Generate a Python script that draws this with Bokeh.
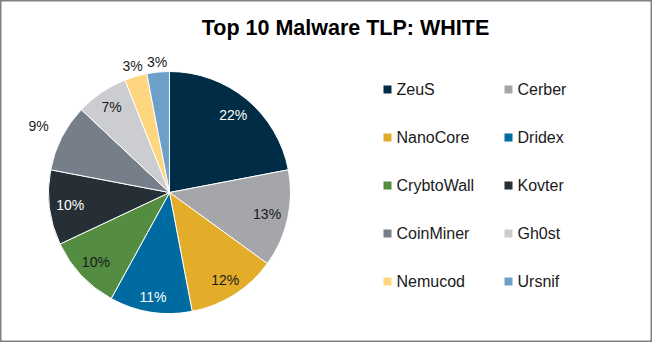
import math
import pandas as pd
from bokeh.plotting import figure
from bokeh.models import Range1d, ColumnDataSource
from bokeh.core.properties import value
from bokeh.embed import file_html
from bokeh.resources import INLINE

# ---- data ----
title = "Top 10 Malware TLP: WHITE"
names = ["ZeuS", "Cerber", "NanoCore", "Dridex", "CrybtoWall",
         "Kovter", "CoinMiner", "Gh0st", "Nemucod", "Ursnif"]
shares = [22, 13, 12, 11, 10, 10, 9, 7, 3, 3]
colors = ["#012c45", "#a5a6aa", "#e3ad2a", "#006ba0", "#548d42",
          "#262e36", "#767e89", "#cccdd0", "#ffd680", "#6ca0c8"]
label_colors = ["white", "#1a1a1a", "#1a1a1a", "white", "#1a1a1a",
                "white", "#1a1a1a", "#1a1a1a", "#1a1a1a", "#1a1a1a"]

# ---- layout (screen-like coordinates, y up = 358 - y_screen) ----
W, H = 652, 342
FONT = "Liberation Sans"
cx, cy = 177, 358 - 200
R = 121

df = pd.DataFrame({"name": names, "share": shares, "color": colors,
                   "lcolor": label_colors})
total = df["share"].sum()
frac = df["share"] / total
cum = frac.cumsum()
df["start"] = math.pi / 2 - cum * 2 * math.pi
df["end"] = math.pi / 2 - (cum - frac) * 2 * math.pi
df["mid"] = (df["start"] + df["end"]) / 2
# label radius: inside labels at 100, a few placed outside (as in the original)
lr = [100, 100, 104, 106, 101, 100, 147, 103, 132, 131]
df["lx"] = [cx + r * math.cos(a) for r, a in zip(lr, df["mid"])]
df["ly"] = [cy + r * math.sin(a) for r, a in zip(lr, df["mid"])]
df["label"] = [f"{s}%" for s in df["share"]]

# legend positions: two columns, five rows
col_x = [395, 516]
row_y = [97, 145, 193, 241, 289]
df["mx"] = [col_x[i % 2] for i in range(len(df))]
df["my"] = [358 - row_y[i // 2] for i in range(len(df))]
df["tx"] = df["mx"] + 9

src = ColumnDataSource(df)

p = figure(width=W, height=H, output_backend="svg", toolbar_location=None,
           x_range=Range1d(8, 8 + W), y_range=Range1d(358 - 8 - H, 358 - 8),
           min_border=0)
p.axis.visible = False
p.grid.visible = False
p.outline_line_color = "#808080"
p.outline_line_width = 2
p.background_fill_color = "white"
p.border_fill_color = "white"

p.wedge(x=cx, y=cy, radius=R, start_angle="start", end_angle="end",
        fill_color="color", line_color="white", line_width=1, source=src)

p.text(x="lx", y="ly", text="label", text_color="lcolor",
       text_align="center", text_baseline="middle",
       text_font=value(FONT), text_font_size="14px", source=src)

p.scatter(x="mx", y="my", marker="square", size=8, fill_color="color",
          line_color=None, source=src)
p.text(x="tx", y="my", text="name", text_color="#1a1a1a",
       text_align="left", text_baseline="middle",
       text_font=value(FONT), text_font_size="16px", source=src)

p.text(x=[353], y=[358 - 35], text=[title], text_color="black",
       text_align="center", text_baseline="middle",
       text_font=value(FONT), text_font_style="bold", text_font_size="21.5px")

open("out.html", "w").write(file_html(p, INLINE))
